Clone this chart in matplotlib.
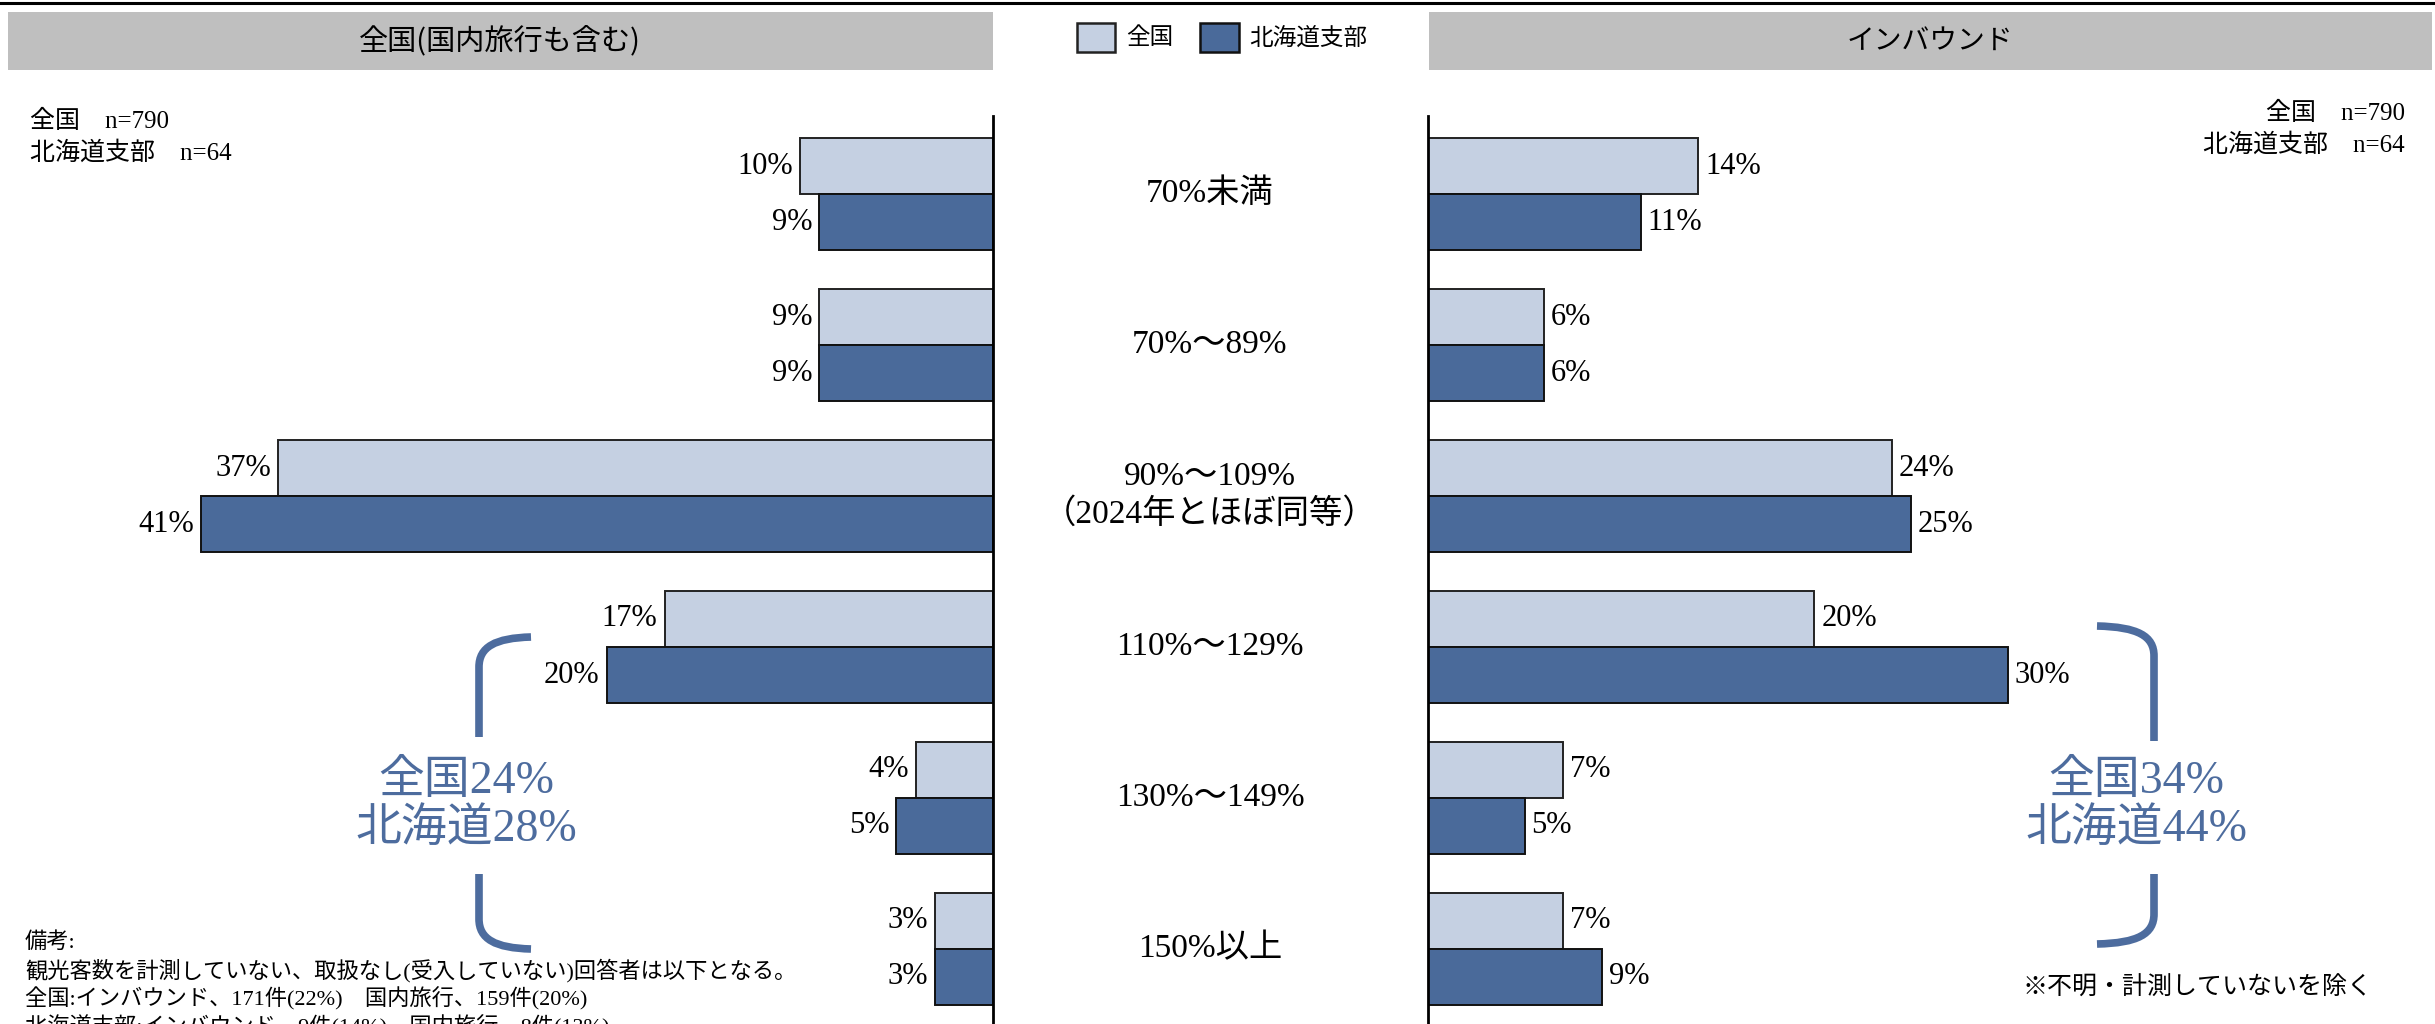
import numpy as np
import matplotlib.pyplot as plt
from matplotlib.path import Path
from matplotlib.patches import PathPatch, Rectangle
from matplotlib.transforms import blended_transform_factory

# data
categories = ['70%未満', '70%～89%', '90%～109%\n（2024年とほぼ同等）',
              '110%～129%', '130%～149%', '150%以上']
domestic_zenkoku = [10, 9, 37, 17, 4, 3]
domestic_hokkaido = [9, 9, 41, 20, 5, 3]
inbound_zenkoku = [14, 6, 24, 20, 7, 7]
inbound_hokkaido = [11, 6, 25, 30, 5, 9]
series_names = ['全国', '北海道支部']

notes_n = ['全国　n=790', '北海道支部　n=64']
notes_bottom = ['備考:',
                '観光客数を計測していない、取扱なし(受入していない)回答者は以下となる。',
                '全国:インバウンド、171件(22%)　国内旅行、159件(20%)',
                '北海道支部:インバウンド、9件(14%)　国内旅行、8件(13%)']

LIGHT = '#c5d0e2'
DARK = '#4a6a9a'
BLUE = '#4d6c9e'
SERIF = ['Liberation Serif', 'Noto Sans CJK JP']
SANS = ['Noto Sans CJK JP', 'DejaVu Sans']

W, H = 2435, 1024
fig = plt.figure(figsize=(W / 100, H / 100), dpi=100)

# overlay in pixel coordinates for decorations
ax0 = fig.add_axes([0, 0, 1, 1])
ax0.set_xlim(0, W)
ax0.set_ylim(H, 0)
ax0.axis('off')

ax0.plot([0, W], [2.5, 2.5], color='black', lw=2.2)
ax0.add_patch(Rectangle((8, 12), 985, 58, color='#bfbfbf', lw=0))
ax0.add_patch(Rectangle((1429, 12), 1003, 58, color='#bfbfbf', lw=0))
ax0.text(500, 41, '全国(国内旅行も含む)', ha='center', va='center',
         fontsize=21, family=SANS)
ax0.text(1930, 41, 'インバウンド', ha='center', va='center',
         fontsize=20, family=SANS)

# legend
ax0.add_patch(Rectangle((1077, 23), 38, 29, facecolor=LIGHT, edgecolor='#222222', lw=1.8))
ax0.text(1126, 38, series_names[0], ha='left', va='center', fontsize=17, family=SANS)
ax0.add_patch(Rectangle((1200, 23), 39, 29, facecolor=DARK, edgecolor='#111111', lw=1.8))
ax0.text(1249, 38, series_names[1], ha='left', va='center', fontsize=17, family=SANS)

# sample size notes
for i, t in enumerate(notes_n):
    ax0.text(30, 121 + i * 32, t, ha='left', va='center', fontsize=18, family=SERIF)
    ax0.text(2405, 113 + i * 32, t, ha='right', va='center', fontsize=18, family=SERIF)

# bottom notes (last line runs off the bottom edge, as in the original)
for i, t in enumerate(notes_bottom):
    ax0.text(25, 943 + i * 28, t, ha='left', va='center', fontsize=16, family=SERIF)
ax0.text(2022, 988, '※不明・計測していないを除く', ha='left', va='center',
         fontsize=18, family=SERIF)

# brackets
def bracket(xa, xv, y0, g0, g1, y1):
    s = 1 if xa > xv else -1
    verts = [(xa, y0), (xv + s * 16, y0 + 1), (xv, y0 + 10), (xv, y0 + 30), (xv, g0),
             (xv, g1), (xv, y1 - 30), (xv, y1 - 10), (xv + s * 16, y1 - 1), (xa, y1)]
    codes = [Path.MOVETO, Path.CURVE4, Path.CURVE4, Path.CURVE4, Path.LINETO,
             Path.MOVETO, Path.LINETO, Path.CURVE4, Path.CURVE4, Path.CURVE4]
    ax0.add_patch(PathPatch(Path(verts, codes), facecolor='none', edgecolor=BLUE,
                            lw=5.5, capstyle='butt'))

bracket(531, 479, 637, 737, 874, 949)
bracket(2097, 2154, 626, 741, 874, 944)
ax0.text(466, 805, '全国24%\n北海道28%', ha='center', va='center', fontsize=33,
         color=BLUE, family=SERIF, linespacing=1.15)
ax0.text(2136, 805, '全国34%\n北海道44%', ha='center', va='center', fontsize=33,
         color=BLUE, family=SERIF, linespacing=1.15)

# bar panels
px_per_pct = 19.32
left_axis_x, right_axis_x, top_y = 993, 1428, 116
ax_h = (H - top_y) / H
axL = fig.add_axes([0, 0, left_axis_x / W, ax_h])
axR = fig.add_axes([right_axis_x / W, 0, (W - right_axis_x) / W, ax_h])
y = np.arange(len(categories))
bh = 0.371

for ax, vz, vh, side in [(axL, domestic_zenkoku, domestic_hokkaido, 'left'),
                         (axR, inbound_zenkoku, inbound_hokkaido, 'right')]:
    ax.patch.set_alpha(0)
    b1 = ax.barh(y - bh / 2, vz, height=bh, color=LIGHT, edgecolor='#222222', lw=1.4)
    b2 = ax.barh(y + bh / 2, vh, height=bh, color=DARK, edgecolor='#111111', lw=1.4)
    if side == 'left':
        ax.set_xlim(left_axis_x / px_per_pct, 0)
    else:
        ax.set_xlim(0, (W - right_axis_x) / px_per_pct)
    ax.set_ylim(len(categories) - 1 + 0.497, -0.517)
    for b in (b1, b2):
        ax.bar_label(b, labels=[f'{v}%' for v in b.datavalues], padding=5,
                     fontsize=22, family=SERIF)
    for s in ax.spines.values():
        s.set_visible(False)
    sp = ax.spines['right'] if side == 'left' else ax.spines['left']
    sp.set_visible(True)
    sp.set_linewidth(2)
    ax.set_xticks([])
    ax.set_yticks([])

# category labels in the centre
tr = blended_transform_factory(ax0.transData, axL.transData)
for i, c in enumerate(categories):
    axL.text(1210, i, c, transform=tr, ha='center', va='center', fontsize=24,
             family=SERIF, linespacing=1.25, clip_on=False)

fig.savefig('out.png', dpi=100)
